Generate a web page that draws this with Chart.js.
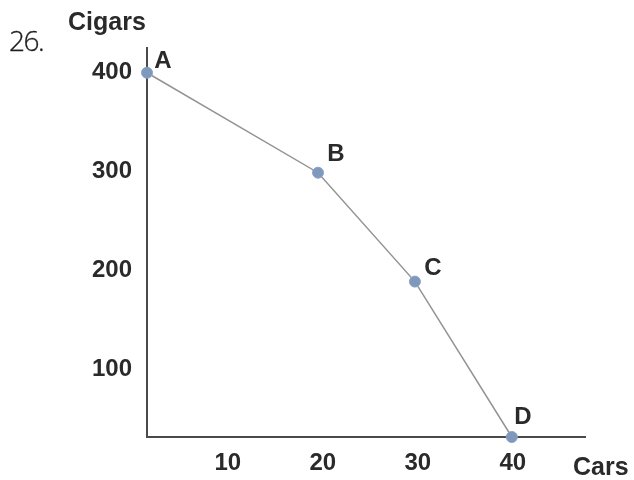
<!DOCTYPE html>
<html>
<head>
<meta charset="utf-8">
<script src="https://cdn.jsdelivr.net/npm/chart.js@4"></script>
<style>
  html, body { margin: 0; padding: 0; background: #fff; }
  #wrap { position: relative; width: 634px; height: 480px; }
  canvas { position: absolute; left: 0; top: 0; }
  .lbl { position: absolute; white-space: nowrap; line-height: 1; color: #2a2a2a; }
  .bold { font-family: "Liberation Sans", Arial, sans-serif; font-weight: bold; font-size: 25px; }
  #num { font-family: "Open Sans", sans-serif; font-weight: 300; font-size: 28px; letter-spacing: -1.5px; color: #1e1e1e; left: 9px; top: 26px; -webkit-text-stroke: 0.3px #1e1e1e; }
  #ytitle { left: 68px; top: 9px; }
  #xtitle { left: 573px; top: 454px; }
</style>
</head>
<body>
<div id="wrap">
  <canvas id="c" width="634" height="480"></canvas>
  <div class="lbl" id="num">26.</div>
  <div class="lbl bold" id="ytitle">Cigars</div>
  <div class="lbl bold" id="xtitle">Cars</div>
</div>
<script>
// Data
const pointNames = ["A", "B", "C", "D"];
const cars = [1.5, 19.5, 29.7, 39.9];
const cigars = [400, 299, 189, 32];
const xTicks = [10, 20, 30, 40];
const yTicks = [100, 200, 300, 400];

// Label offsets (style)
const labelOffsets = [[16, -11], [18, -18], [18, -13], [11, -20]];

const points = cars.map((x, i) => ({ x: x, y: cigars[i] }));

const pointLabelPlugin = {
  id: 'pointLabels',
  afterDatasetsDraw(chart) {
    const ctx = chart.ctx;
    const meta = chart.getDatasetMeta(0);
    ctx.save();
    ctx.font = 'bold 24px "Liberation Sans", Arial, sans-serif';
    ctx.fillStyle = '#2a2a2a';
    ctx.textAlign = 'center';
    ctx.textBaseline = 'middle';
    meta.data.forEach((el, i) => {
      const o = labelOffsets[i];
      ctx.fillText(pointNames[i], el.x + o[0], el.y + o[1]);
    });
    ctx.restore();
  }
};

const tickFont = { family: '"Liberation Sans", Arial, sans-serif', size: 24, weight: 'bold' };

new Chart(document.getElementById('c'), {
  type: 'scatter',
  data: {
    datasets: [{
      data: points,
      showLine: true,
      clip: false,
      borderColor: '#939393',
      borderWidth: 1.5,
      backgroundColor: '#7f99bd',
      pointBackgroundColor: '#7f99bd',
      pointBorderColor: '#8aa2c4',
      pointBorderWidth: 1,
      pointRadius: 5.5,
      tension: 0
    }]
  },
  options: {
    responsive: false,
    animation: false,
    events: [],
    layout: { padding: { top: 48, right: 49, left: 0, bottom: 0 } },
    plugins: { legend: { display: false }, tooltip: { enabled: false }, title: { display: false } },
    scales: {
      x: {
        type: 'linear',
        min: 1.5,
        max: 47.6,
        afterBuildTicks(scale) { scale.ticks = xTicks.map(v => ({ value: v })); },
        afterFit(scale) { scale.height = 43; },
        grid: { display: false, drawTicks: false },
        border: { display: true, color: '#4a4a4a', width: 2 },
        ticks: { font: tickFont, color: '#2a2a2a', padding: 12, maxRotation: 0, autoSkip: false }
      },
      y: {
        type: 'linear',
        min: 32,
        max: 425,
        afterBuildTicks(scale) { scale.ticks = yTicks.map(v => ({ value: v })); },
        afterFit(scale) { scale.width = 147; },
        grid: { display: false, drawTicks: false },
        border: { display: true, color: '#4a4a4a', width: 2 },
        ticks: { font: tickFont, color: '#2a2a2a', padding: 15, autoSkip: false }
      }
    }
  },
  plugins: [pointLabelPlugin]
});
</script>
</body>
</html>
